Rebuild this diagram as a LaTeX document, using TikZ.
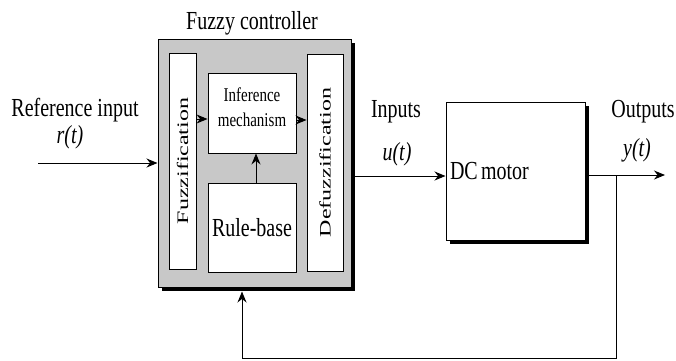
\documentclass[tikz,border=0pt]{standalone}
\usepackage{fontspec}
\setmainfont{Liberation Serif}
\usetikzlibrary{arrows.meta,positioning,calc,shadows}
\definecolor{FcGray}{RGB}{200,200,200}
\newcommand{\tallx}[2][1.3]{\scalebox{1}[#1]{#2}}
\newcommand{\longx}[2][1.4]{\scalebox{#1}[1]{#2}}
\tikzset{
  fc/outer/.style={
    draw=black,
    line width=1pt,
    fill=FcGray,
    inner sep=0pt,
    drop shadow={shadow xshift=4pt,shadow yshift=-4pt,fill=black,opacity=1}
  },
  fc/box/.style={
    draw=black,
    line width=0.9pt,
    fill=white,
    inner sep=0pt,
    align=center
  },
  fc/label/.style={font=\fontsize{20}{24}\selectfont, inner sep=0pt},
  fc/small/.style={font=\fontsize{15}{18}\selectfont, inner sep=0pt, align=center},
  fc/arrow/.style={-{Stealth[length=11pt,width=9pt]}, line width=1pt}
}
\begin{document}
\begin{tikzpicture}[x=1pt,y=-1pt]
  \useasboundingbox (0,0) rectangle (676,360);
  % controller block
  \node[fc/outer,minimum width=193pt,minimum height=248pt] (ctrl) at (254.5,163) {};
  \node[fc/label] (title) at (252,23) {\tallx{Fuzzy controller}};
  \node[fc/box,minimum width=27pt,minimum height=216pt] (fuzz) at (182.5,161)
    {\rotatebox{90}{\fontsize{16}{18}\selectfont\longx[1.5]{Fuzzification}}};
  \node[fc/box,minimum width=88pt,minimum height=80pt] (inf) at (252,113) {};
  \node[fc/small] (inftext) at (252,107)
    {\tallx{Inference}\\[7pt]\tallx{mechanism}};
  \node[fc/box,minimum width=88pt,minimum height=89pt] (rule) at (252,227.5)
    {\fontsize{20}{24}\selectfont\tallx{Rule-base}};
  \node[fc/box,minimum width=36pt,minimum height=217pt] (defuzz) at (325,162.5)
    {\rotatebox{90}{\fontsize{16}{18}\selectfont\longx[1.5]{Defuzzification}}};
  % plant
  \node[fc/outer,fill=white,minimum width=139pt,minimum height=138pt,
        text width=131pt,align=left,inner xsep=4pt] (motor) at (515.5,171)
    {\fontsize{20}{24}\selectfont\tallx{DC motor}};
  % signal labels
  \node[fc/label] (refin) at (75,110) {\tallx{Reference input}};
  \node[fc/label] (rt) at (70,137) {\tallx{\itshape r(t)}};
  \node[fc/label] (inputs) at (396,112) {\tallx{Inputs}};
  \node[fc/label] (ut) at (397,154) {\tallx{\itshape u(t)}};
  \node[fc/label] (outputs) at (643,112) {\tallx{Outputs}};
  \node[fc/label] (yt) at (637,150) {\tallx{\itshape y(t)}};
  % connectors
  \coordinate (rin) at (38,163);
  \coordinate (uin) at (0,176);
  \coordinate (yout) at (665,175);
  \coordinate (branch) at (616,175);
  \coordinate (fb) at (242,358);
  \draw[fc/arrow] (rin) -- (rin -| ctrl.west);
  \draw[fc/arrow] ([yshift=-6pt]inf.west -| fuzz.east) -- ([yshift=-6pt]inf.west);
  \draw[fc/arrow] ([yshift=-7pt]inf.east) -- ([yshift=-7pt]inf.east -| defuzz.west);
  \draw[fc/arrow] ([xshift=4pt]rule.north) -- ([xshift=4pt]inf.south);
  \draw[fc/arrow] (uin -| ctrl.east) -- (uin -| motor.west);
  \draw[fc/arrow] (yout -| motor.east) -- (yout);
  \draw[fc/arrow] (branch) |- (fb) -- ([yshift=-4pt]fb |- ctrl.south);
\end{tikzpicture}
\end{document}
